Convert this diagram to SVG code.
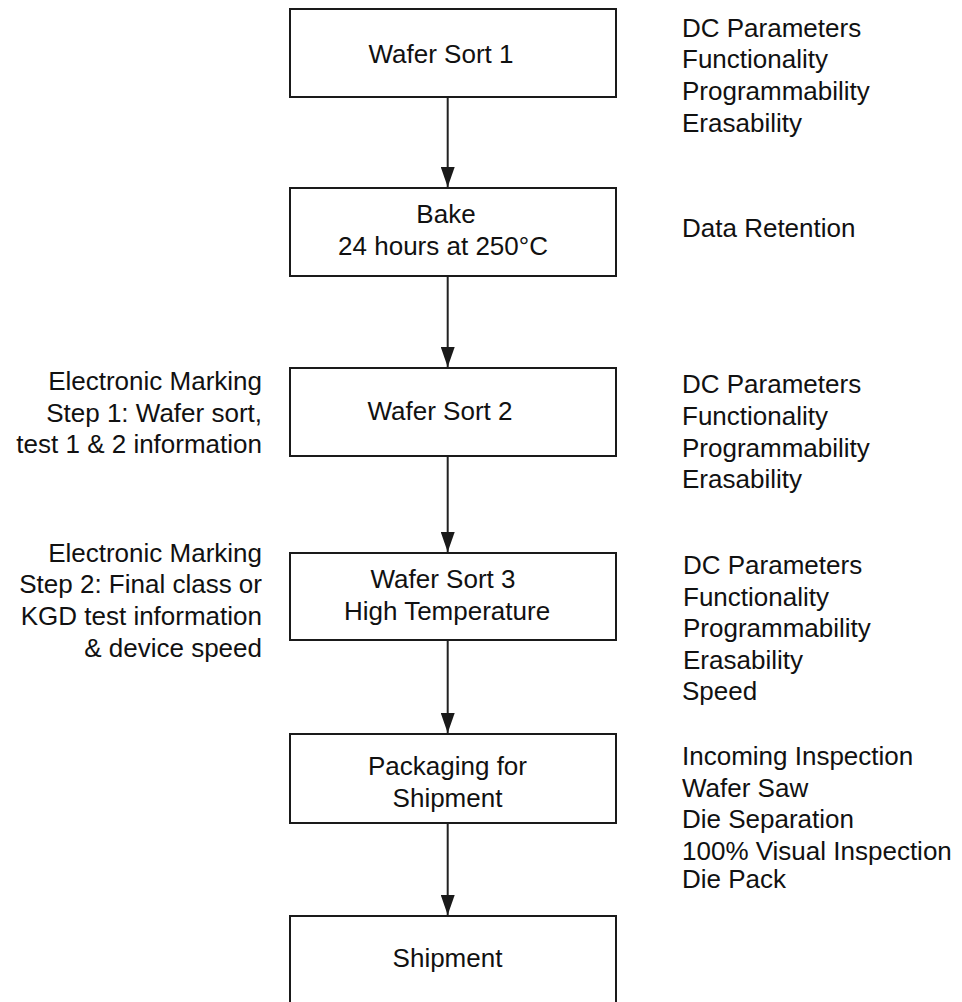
<svg xmlns="http://www.w3.org/2000/svg" width="962" height="1002" viewBox="0 0 962 1002">
<style>
text{font-family:"Liberation Sans",Arial,Helvetica,sans-serif;font-size:26px;fill:#111}
.c{text-anchor:middle}
.r{text-anchor:end}
.box{fill:#fff;stroke:#1a1a1a;stroke-width:2}
.ln{stroke:#222;stroke-width:2;fill:none}
</style>
<defs>
<marker id="ah" markerUnits="userSpaceOnUse" markerWidth="20" markerHeight="14" refX="20" refY="7" orient="auto" viewBox="0 0 20 14">
<path d="M0,0 L20,7 L0,14 Z" fill="#1a1a1a"/>
</marker>
</defs>
<rect width="962" height="1002" fill="#fff"/>
<g id="connectors">
<line class="ln" x1="447.7" y1="97" x2="447.7" y2="187" marker-end="url(#ah)"/>
<line class="ln" x1="447.7" y1="276" x2="447.7" y2="367" marker-end="url(#ah)"/>
<line class="ln" x1="447.7" y1="456" x2="447.7" y2="552" marker-end="url(#ah)"/>
<line class="ln" x1="447.7" y1="640" x2="447.7" y2="733" marker-end="url(#ah)"/>
<line class="ln" x1="447.7" y1="823" x2="447.7" y2="915" marker-end="url(#ah)"/>
</g>
<g id="n1">
<rect class="box" x="290" y="9" width="326" height="88"/>
<text class="c" x="441" y="63">Wafer Sort 1</text>
</g>
<g id="n1note">
<text x="682" y="36.7">DC Parameters</text>
<text x="682" y="68.3">Functionality</text>
<text x="682" y="100">Programmability</text>
<text x="682" y="131.7">Erasability</text>
</g>
<g id="n2">
<rect class="box" x="290" y="188" width="326" height="88"/>
<text class="c" x="446" y="223.3">Bake</text>
<text class="c" x="443" y="255">24 hours at 250°C</text>
</g>
<g id="n2note">
<text x="682" y="236.7">Data Retention</text>
</g>
<g id="n3">
<rect class="box" x="290" y="368" width="326" height="88"/>
<text class="c" x="440" y="420">Wafer Sort 2</text>
</g>
<g id="n3left">
<text class="r" x="262" y="390">Electronic Marking</text>
<text class="r" x="262" y="421.7">Step 1: Wafer sort,</text>
<text class="r" x="262" y="453.3">test 1 &amp; 2 information</text>
</g>
<g id="n3note">
<text x="682" y="392.7">DC Parameters</text>
<text x="682" y="425">Functionality</text>
<text x="682" y="456.7">Programmability</text>
<text x="682" y="488.3">Erasability</text>
</g>
<g id="n4">
<rect class="box" x="290" y="553" width="326" height="87"/>
<text class="c" x="443" y="588.3">Wafer Sort 3</text>
<text class="c" x="447" y="620">High Temperature</text>
</g>
<g id="n4left">
<text class="r" x="262" y="561.7">Electronic Marking</text>
<text class="r" x="262" y="593.3">Step 2: Final class or</text>
<text class="r" x="262" y="625">KGD test information</text>
<text class="r" x="262" y="656.7">&amp; device speed</text>
</g>
<g id="n4note">
<text x="683" y="574">DC Parameters</text>
<text x="683" y="605.5">Functionality</text>
<text x="683" y="637">Programmability</text>
<text x="683" y="668.5">Erasability</text>
<text x="682" y="700">Speed</text>
</g>
<g id="n5">
<rect class="box" x="290" y="734" width="326" height="89"/>
<text class="c" x="447.5" y="775">Packaging for</text>
<text class="c" x="447.5" y="806.7">Shipment</text>
</g>
<g id="n5note">
<text x="682" y="765">Incoming Inspection</text>
<text x="682" y="796.7">Wafer Saw</text>
<text x="682" y="828.3">Die Separation</text>
<text x="682" y="860">100% Visual Inspection</text>
<text x="682" y="888.3">Die Pack</text>
</g>
<g id="n6">
<path class="box" d="M290,1003 L290,916 L616,916 L616,1003"/>
<text class="c" x="447.5" y="967.3">Shipment</text>
</g>
</svg>
